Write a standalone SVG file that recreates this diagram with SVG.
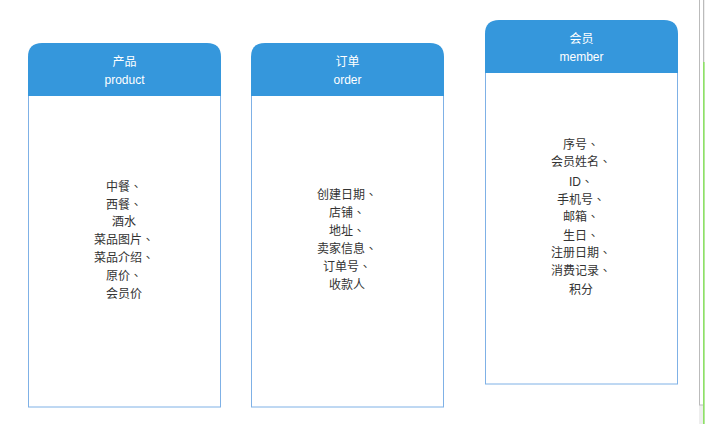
<svg xmlns="http://www.w3.org/2000/svg" width="705" height="424" viewBox="0 0 705 424">
<style>
.body{fill:#ffffff;stroke:#7fb1e6;stroke-width:1}
.head{fill:#3597dc}
.ht{font-family:"Liberation Sans","Noto Sans CJK SC",sans-serif;font-size:12px;fill:#ffffff;text-anchor:middle}
.bt{font-family:"Liberation Sans","Noto Sans CJK SC",sans-serif;font-size:12px;fill:#333333;text-anchor:middle}
.p{font-family:"Noto Sans CJK TC",sans-serif}
</style>
<rect x="0" y="0" width="705" height="424" fill="#ffffff"/>
<g id="edge-strip">
<rect x="699" y="0" width="6" height="424" fill="#eeeeee"/>
<rect x="699.5" y="-2" width="4" height="407" fill="#ffffff" stroke="#bbbbbb" stroke-width="1"/>
<line x1="703.8" y1="62" x2="703.8" y2="424" stroke="#8ee266" stroke-width="1.6"/>
</g>
<g id="connectors"></g>
<g id="node-product">
<rect class="body" x="28.5" y="90" width="192" height="317"/>
<path class="head" d="M28 96 V57 Q28 43 42 43 H207 Q221 43 221 57 V96 Z"/>
<text class="ht" x="124.5" y="65.5">产品</text>
<text class="ht" x="124.5" y="83.5">product</text>
<text class="bt" x="124" y="190.5">中餐<tspan class="p">、</tspan></text>
<text class="bt" x="124" y="208.5">西餐<tspan class="p">、</tspan></text>
<text class="bt" x="124" y="225.5">酒水</text>
<text class="bt" x="124" y="243.5">菜品图片<tspan class="p">、</tspan></text>
<text class="bt" x="124" y="261.5">菜品介绍<tspan class="p">、</tspan></text>
<text class="bt" x="124" y="279.5">原价<tspan class="p">、</tspan></text>
<text class="bt" x="124" y="297.5">会员价</text>
</g>
<g id="node-order">
<rect class="body" x="251.5" y="90" width="192" height="317"/>
<path class="head" d="M251 96 V57 Q251 43 265 43 H430 Q444 43 444 57 V96 Z"/>
<text class="ht" x="347.5" y="65.5">订单</text>
<text class="ht" x="347.5" y="83.5">order</text>
<text class="bt" x="347" y="198.5">创建日期<tspan class="p">、</tspan></text>
<text class="bt" x="347" y="216.5">店铺<tspan class="p">、</tspan></text>
<text class="bt" x="347" y="234.5">地址<tspan class="p">、</tspan></text>
<text class="bt" x="347" y="252.5">卖家信息<tspan class="p">、</tspan></text>
<text class="bt" x="347" y="270.5">订单号<tspan class="p">、</tspan></text>
<text class="bt" x="347" y="288.5">收款人</text>
</g>
<g id="node-member">
<rect class="body" x="485.5" y="67" width="192" height="317"/>
<path class="head" d="M485 73 V34 Q485 20 499 20 H664 Q678 20 678 34 V73 Z"/>
<text class="ht" x="581.5" y="42.5">会员</text>
<text class="ht" x="581.5" y="61">member</text>
<text class="bt" x="581" y="148.5">序号<tspan class="p">、</tspan></text>
<text class="bt" x="581" y="165.5">会员姓名<tspan class="p">、</tspan></text>
<text class="bt" x="581" y="185.5">ID<tspan class="p">、</tspan></text>
<text class="bt" x="581" y="203.5">手机号<tspan class="p">、</tspan></text>
<text class="bt" x="581" y="220.5">邮箱<tspan class="p">、</tspan></text>
<text class="bt" x="581" y="239.5">生日<tspan class="p">、</tspan></text>
<text class="bt" x="581" y="256.5">注册日期<tspan class="p">、</tspan></text>
<text class="bt" x="581" y="274.5">消费记录<tspan class="p">、</tspan></text>
<text class="bt" x="581" y="293.5">积分</text>
</g>
</svg>
